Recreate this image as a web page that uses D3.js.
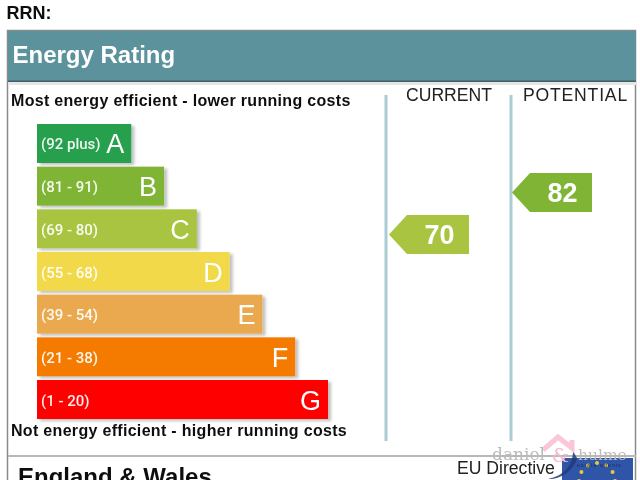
<!DOCTYPE html>
<html><head><meta charset="utf-8">
<script src="https://cdn.jsdelivr.net/npm/d3@7"></script>
<style>html,body{margin:0;padding:0;background:#fff;overflow:hidden}svg{display:block}text{font-family:"Liberation Sans",Arial,sans-serif}</style>
</head><body><div id="c"></div>
<script>
const letters=["A","B","C","D","E","F","G"];
const ranges=["(92 plus)","(81 - 91)","(69 - 80)","(55 - 68)","(39 - 54)","(21 - 38)","(1 - 20)"];
const colors=["#25a04d","#80b435","#a9c43f","#f2d94a","#eba94f","#f47a00","#fe0000"];
const lengths=[1,2,3,4,5,6,7];
const columns=["CURRENT","POTENTIAL"];
const scores=[70,82];
const scoreColors=["#a9c43f","#80b435"];
const title="Energy Rating";
const topNote="Most energy efficient - lower running costs";
const bottomNote="Not energy efficient - higher running costs";

const svg=d3.select("#c").append("svg").attr("width",640).attr("height",480);
const defs=svg.append("defs");
const f=defs.append("filter").attr("id","sh").attr("x","-5%").attr("y","-10%").attr("width","115%").attr("height","125%");
f.append("feDropShadow").attr("dx",3).attr("dy",2).attr("stdDeviation",1.5).attr("flood-color","#000").attr("flood-opacity",.25);
const soft=defs.append("filter").attr("id","soft");
soft.append("feGaussianBlur").attr("stdDeviation",.4);
defs.append("clipPath").attr("id","flag").append("rect").attr("x",562).attr("y",458).attr("width",71).attr("height",22);

const root=svg.append("g").attr("filter","url(#soft)");

root.append("text").attr("x",6.5).attr("y",19).attr("font-size",18).attr("font-weight",700).attr("fill","#111").text("RRN:");
// frame
root.append("rect").attr("x",7.5).attr("y",30.5).attr("width",628).attr("height",460).attr("fill","#fff").attr("stroke","#8a8a8a").attr("stroke-width",1.5);
root.append("rect").attr("x",8).attr("y",31).attr("width",628).attr("height",51).attr("fill","#5c929c");
root.append("rect").attr("x",8).attr("y",80.5).attr("width",628).attr("height",1.5).attr("fill","#3f5f66");
root.append("rect").attr("x",8).attr("y",82).attr("width",628).attr("height",3).attr("fill","#e6e6e6");
root.append("text").attr("x",12.5).attr("y",63).attr("font-size",24).attr("font-weight",700).attr("fill","#fff").text(title);

root.append("text").attr("x",11).attr("y",105.5).attr("font-size",16).attr("font-weight",700).attr("fill","#111").attr("letter-spacing",.31).text(topNote);
root.append("text").attr("x",11).attr("y",436).attr("font-size",16).attr("font-weight",700).attr("fill","#111").attr("letter-spacing",.31).text(bottomNote);

// bars
const y=d3.scaleBand().domain(letters).range([124,419]).paddingInner(.086).paddingOuter(0);
const x=d3.scaleLinear().domain([0,7]).range([98.5,328]);
const x0=37;
const bars=root.selectAll("g.bar").data(letters).join("g").attr("class","bar");
bars.append("rect").attr("x",x0).attr("y",d=>y(d)).attr("width",(d,i)=>x(lengths[i])-x0).attr("height",y.bandwidth()).attr("fill",(d,i)=>colors[i]).attr("filter","url(#sh)");
bars.append("text").attr("x",x0+4).attr("y",d=>y(d)+y.bandwidth()/2+6).style("font-family","Roboto").attr("font-size",15).attr("font-weight",500).attr("fill","#fff").attr("fill-opacity",.92).text((d,i)=>ranges[i]);
bars.append("text").attr("x",(d,i)=>x(lengths[i])-7).attr("y",d=>y(d)+y.bandwidth()/2+10).attr("text-anchor","end").attr("font-size",27).attr("fill","#fff").text(d=>d);

// columns
const cx=d3.scalePoint().domain(columns).range([386,511]);
const colText=[449,575.5];
const colSpacing=[0,.8];
columns.forEach((c,i)=>{
  root.append("line").attr("x1",cx(c)).attr("x2",cx(c)).attr("y1",95).attr("y2",441).attr("stroke","#a9cdd3").attr("stroke-width",3);
  root.append("text").attr("x",colText[i]).attr("y",101).attr("text-anchor","middle").attr("font-size",17.6).attr("letter-spacing",colSpacing[i]).attr("fill","#222").text(c);
});

// score tags
const sy=d3.scaleLinear().domain([82,70]).range([192.5,234.5]);
const h=39,tip=18,w=62;
const tags=root.selectAll("g.tag").data(scores).join("g").attr("class","tag")
  .attr("transform",(d,i)=>`translate(${cx(columns[i])+(i?1:3)},${sy(d)})`);
tags.append("path").attr("d",d3.line()([[0,0],[tip,-h/2],[tip+w,-h/2],[tip+w,h/2],[tip,h/2]])+"Z").attr("fill",(d,i)=>scoreColors[i]);
tags.append("text").attr("x",50.5).attr("y",9.5).attr("text-anchor","middle").attr("font-size",27).attr("font-weight",700).attr("fill","#fff").text(d=>d);

// footer
root.append("rect").attr("x",8).attr("y",455).attr("width",628).attr("height",2).attr("fill","#b8b8b8");
root.append("text").attr("x",18).attr("y",484.5).attr("font-size",24).attr("font-weight",700).attr("fill","#111").text("England & Wales");
root.append("text").attr("x",457).attr("y",474).attr("font-size",17.6).attr("fill","#222").text("EU Directive");
const fl=root.append("g").attr("clip-path","url(#flag)");
fl.append("rect").attr("x",562).attr("y",458).attr("width",71).attr("height",30).attr("fill","#2f55a8");
const stars=d3.range(12).map(i=>i*Math.PI/6);
fl.selectAll("circle").data(stars).join("circle").attr("cx",a=>597+Math.cos(a)*18).attr("cy",a=>481+Math.sin(a)*18).attr("r",2).attr("fill","#e8c93a");

// watermark
const wm=svg.append("g");
wm.append("path").attr("d","M573 451 C573 466 563 476 548 479 C558 480 574 472 577 458 Z").attr("fill","#233a78").attr("opacity",.85);
wm.append("path").attr("d","M543 450 L558 437 L572 448 L572 440").attr("fill","none").attr("stroke","#fbc6da").attr("stroke-width",5);
const wt=wm.append("g").attr("filter","url(#soft)");
wt.append("text").attr("x",492).attr("y",460).style("font-family","DejaVu Serif").attr("font-size",17).attr("fill","#bbb").text("daniel");
wt.append("text").attr("x",578).attr("y",460).style("font-family","DejaVu Serif").attr("font-size",15.5).attr("fill","#bbb").text("hulme");
wt.append("text").attr("x",552).attr("y",462).style("font-family","DejaVu Serif").attr("font-size",19).attr("fill","#f4b8cf").text("&");
wt.append("text").attr("x",577).attr("y",467).attr("font-size",5.5).attr("letter-spacing",.9).attr("fill","#1c2f66").text("estate agents");
</script></body></html>
